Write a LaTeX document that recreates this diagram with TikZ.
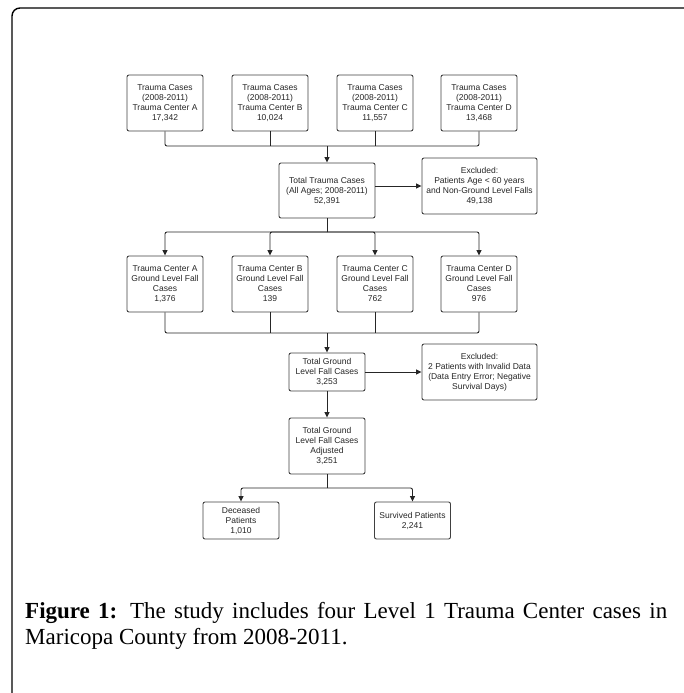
\documentclass[tikz,border=0pt]{standalone}
\usepackage{fontspec}
\setmainfont{Liberation Serif}
\newfontfamily\boxfont{Liberation Sans}
\usetikzlibrary{arrows.meta}
\begin{document}
\begin{tikzpicture}[x=1pt,y=-1pt,
    box/.style={draw=black!75, line width=.9pt, rounded corners=2pt, fill=white,
      align=center, inner sep=1pt, minimum width=76pt, minimum height=56pt,
      font=\boxfont\fontsize{8.5}{10}\selectfont, text=black!85},
    wide/.style={box, minimum width=115pt},
    arr/.style={draw=black!85, line width=.9pt, rounded corners=2pt,
      -{Triangle[length=5.5pt,width=5pt]}},
    bus/.style={draw=black!85, line width=.9pt, rounded corners=2pt}]
  \useasboundingbox (0,0) rectangle (683,693);
  \draw [line width=1.4pt, rounded corners=8pt] (12,720) -- (12,8) -- (692,8) -- (692,720);

  \node [box] (tA) at (165,103) {Trauma Cases\\(2008-2011)\\Trauma Center A\\17,342};
  \node [box] (tB) at (270,103) {Trauma Cases\\(2008-2011)\\Trauma Center B\\10,024};
  \node [box] (tC) at (375,103) {Trauma Cases\\(2008-2011)\\Trauma Center C\\11,557};
  \node [box] (tD) at (479,103) {Trauma Cases\\(2008-2011)\\Trauma Center D\\13,468};
  \node [box, minimum width=96pt, minimum height=55pt] (total) at (327,190.5)
    {Total Trauma Cases\\(All Ages; 2008-2011)\\52,391};
  \node [wide] (exA) at (479.5,186)
    {Excluded:\\Patients Age < 60 years\\and Non-Ground Level Falls\\49,138};

  \node [box] (gA) at (165,284) {Trauma Center A\\Ground Level Fall\\Cases\\1,376};
  \node [box] (gB) at (270,284) {Trauma Center B\\Ground Level Fall\\Cases\\139};
  \node [box] (gC) at (375,284) {Trauma Center C\\Ground Level Fall\\Cases\\762};
  \node [box] (gD) at (479,284) {Trauma Center D\\Ground Level Fall\\Cases\\976};

  \node [box, minimum height=38pt] (fall) at (327,372) {Total Ground\\Level Fall Cases\\3,253};
  \node [wide] (exB) at (479.5,372)
    {Excluded:\\2 Patients with Invalid Data\\(Data Entry Error; Negative\\Survival Days)};
  \node [box] (adj) at (327,446) {Total Ground\\Level Fall Cases\\Adjusted\\3,251};
  \node [box, minimum height=37pt] (dead) at (241,520.5) {Deceased\\Patients\\1,010};
  \node [box, minimum height=37pt] (alive) at (412.5,520.5) {Survived Patients\\2,241};

  \coordinate (j1) at (327,146);
  \coordinate (j2) at (327,232);
  \coordinate (j3) at (327,333);
  \coordinate (j4) at (327,488);

  \draw [bus] (tA.south) |- (j1) -| (tD.south);
  \draw [bus] (tB.south) -- (tB.south |- j1);
  \draw [bus] (tC.south) -- (tC.south |- j1);
  \draw [arr] (j1) -- (total.north);
  \draw [arr] (total.east |- exA) -- (exA.west);

  \draw [bus] (total.south) -- (j2);
  \draw [arr] (j2) -| (gA.north);
  \draw [arr] (j2) -| (gB.north);
  \draw [arr] (j2) -| (gC.north);
  \draw [arr] (j2) -| (gD.north);

  \draw [bus] (gA.south) |- (j3) -| (gD.south);
  \draw [bus] (gB.south) -- (gB.south |- j3);
  \draw [bus] (gC.south) -- (gC.south |- j3);
  \draw [arr] (j3) -- (fall.north);
  \draw [arr] (fall.east) -- (exB.west);
  \draw [arr] (fall.south) -- (adj.north);

  \draw [bus] (adj.south) -- (j4);
  \draw [arr] (j4) -| (dead.north);
  \draw [arr] (j4) -| (alive.north);

  \node [anchor=north west, inner sep=0pt, text width=642pt, align=justify,
    font=\fontsize{23}{26}\selectfont] (cap) at (25,602)
    {\hyphenpenalty=10000 \textbf{Figure 1:} The study includes four Level 1 Trauma Center cases in Maricopa County from 2008-2011.};
\end{tikzpicture}
\end{document}
